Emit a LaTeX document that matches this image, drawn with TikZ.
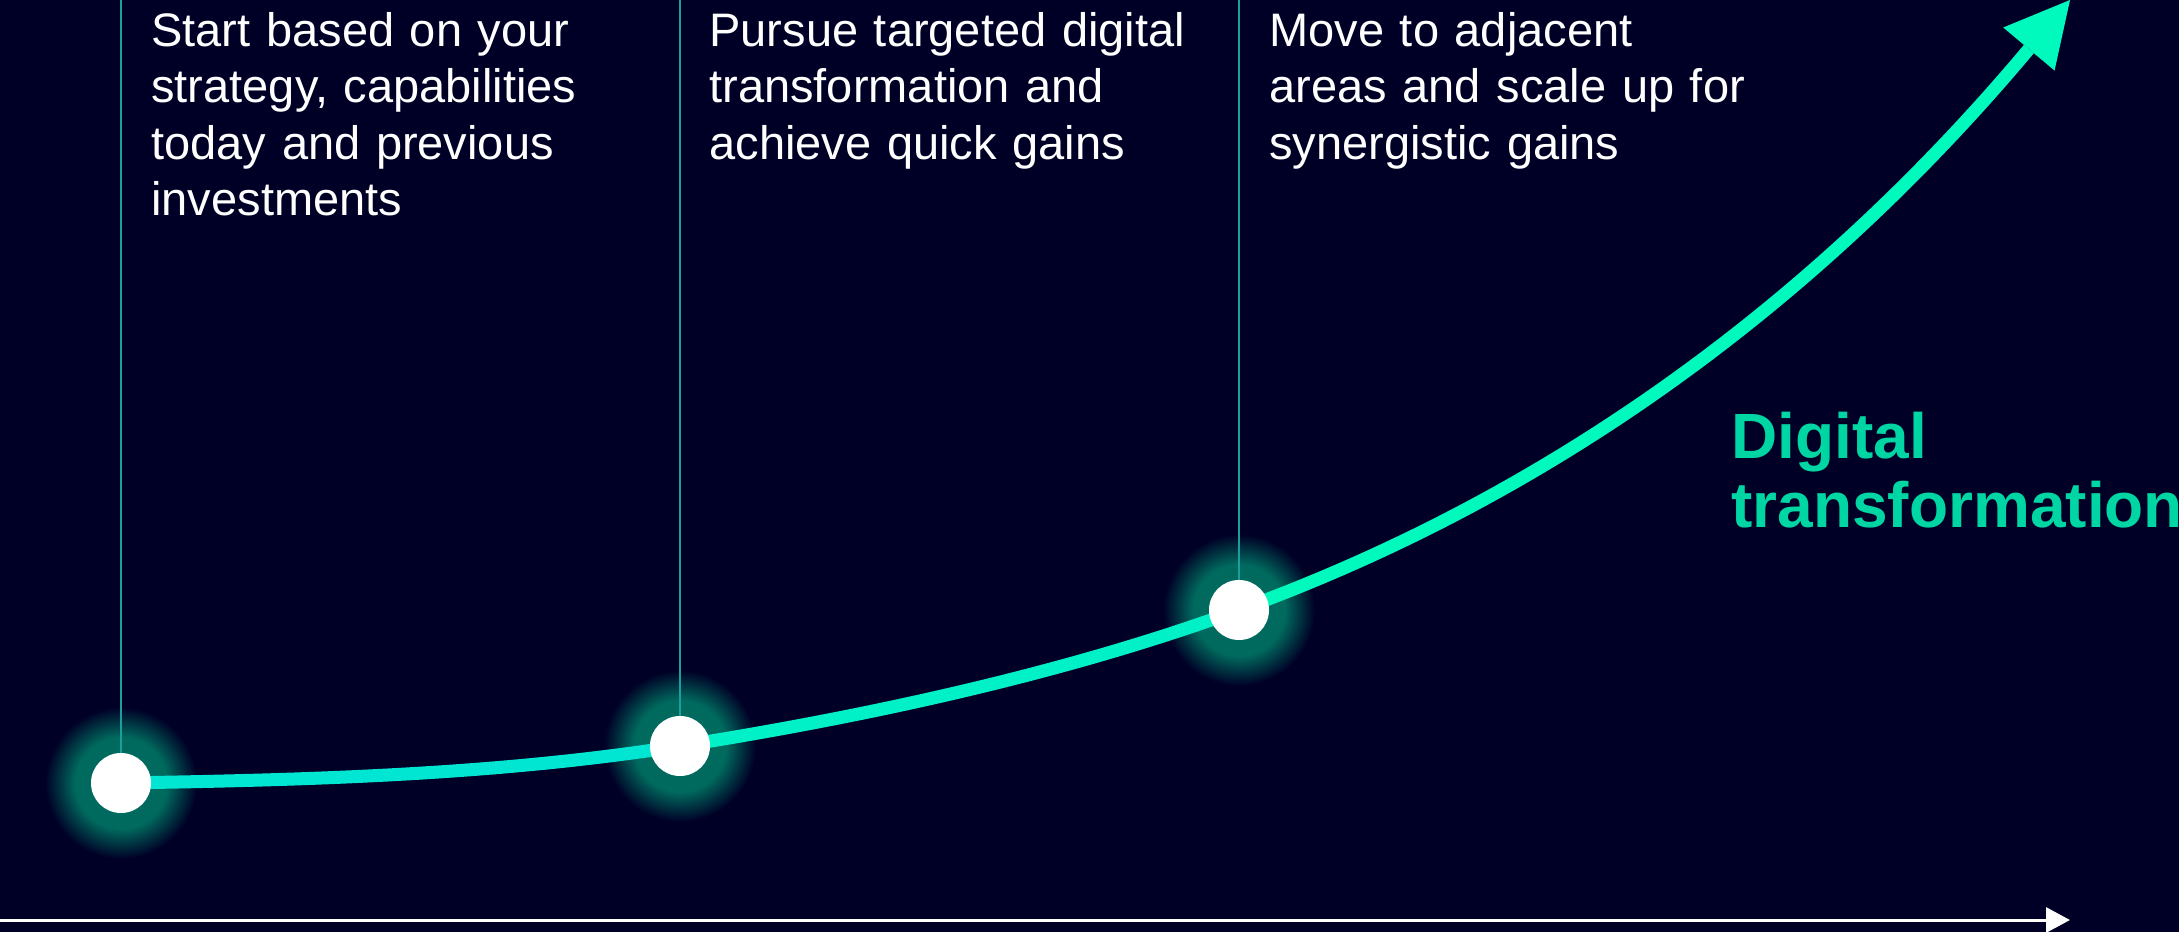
\documentclass[tikz,border=0pt]{standalone}
\usepackage{fontspec}
\setmainfont{Liberation Sans}
\usetikzlibrary{arrows.meta}

\definecolor{bgc}{HTML}{000026}
\definecolor{glowc}{HTML}{006A5E}
\definecolor{stemc}{HTML}{1A9E9E}
\definecolor{curveA}{HTML}{00E6D3}
\definecolor{curveB}{HTML}{00F0C8}
\definecolor{curveC}{HTML}{00FABE}
\definecolor{labelc}{HTML}{00D6A3}

\pgfdeclareradialshading{glowfade}{\pgfpoint{0bp}{0bp}}{color(0bp)=(glowc); color(15bp)=(glowc); color(25bp)=(bgc); color(50bp)=(bgc)}

\pgfdeclarelayer{back}
\pgfdeclarelayer{mid}
\pgfsetlayers{back,mid,main}

\begin{document}
\begin{tikzpicture}[x=0.5pt, y=-0.5pt,
  dot/.style={circle, fill=white, minimum size=30pt, inner sep=0pt},
  glow/.style={shading=glowfade},
  stem/.style={stemc, line width=1pt},
  trend/.style={line width=6.5pt},
  stagetext/.style={text=white, font=\fontsize{23.5}{28.3}\selectfont, text width=290pt, align=left, inner sep=0pt, anchor=base west}]

\begin{pgfonlayer}{back}
\fill[bgc] (0,0) rectangle (2179,932);
\end{pgfonlayer}
\useasboundingbox (0,0) rectangle (2179,932);

% stages on the curve
\node[dot] (d1) at (121,783) {};
\node[dot] (d2) at (680,746) {};
\node[dot] (d3) at (1239,610) {};
\coordinate (tip) at (2070,0);
\coordinate (top) at (0,0);

\begin{pgfonlayer}{back}
\shade[glow] (d1) circle (38pt);
\shade[glow] (d2) circle (38pt);
\shade[glow] (d3) circle (38pt);
\end{pgfonlayer}

% growth curve
\begin{pgfonlayer}{mid}
\draw[trend, curveA] (d1.center) .. controls +(186,-3) and +(-184,29) .. (d2.center);
\draw[trend, curveB] (d2.center) .. controls +(184,-29) and +(-175,64) .. (d3.center);
\draw[trend, curveC, -{Triangle[length=32pt,width=33.5pt,line width=0pt]}] (d3.center) .. controls +(357,-130) and +(-218,260) .. (tip);

\draw[stem] (d1.north) -- (d1 |- top);
\draw[stem] (d2.north) -- (d2 |- top);
\draw[stem] (d3.north) -- (d3 |- top);
\end{pgfonlayer}

\node[stagetext] (s1) at (151,46) {Start based on your\\ strategy, capabilities\\ today and previous\\ investments};
\node[stagetext] (s2) at (709,46) {Pursue targeted digital\\ transformation and\\ achieve quick gains};
\node[stagetext] (s3) at (1269,46) {Move to adjacent\\ areas and scale up for\\ synergistic gains};

\node[anchor=base west, inner sep=0pt, text=labelc, font=\bfseries\fontsize{32}{34.5}\selectfont, text width=260pt, align=left] (dt) at (1731,458) {Digital\\ transformation};

% time axis
\coordinate (ax0) at (0,920);
\coordinate (ax1) at (2070,920);
\draw[white, line width=1.5pt, -{Triangle[length=12pt,width=12.5pt]}] (ax0) -- (ax1);
\end{tikzpicture}
\end{document}
